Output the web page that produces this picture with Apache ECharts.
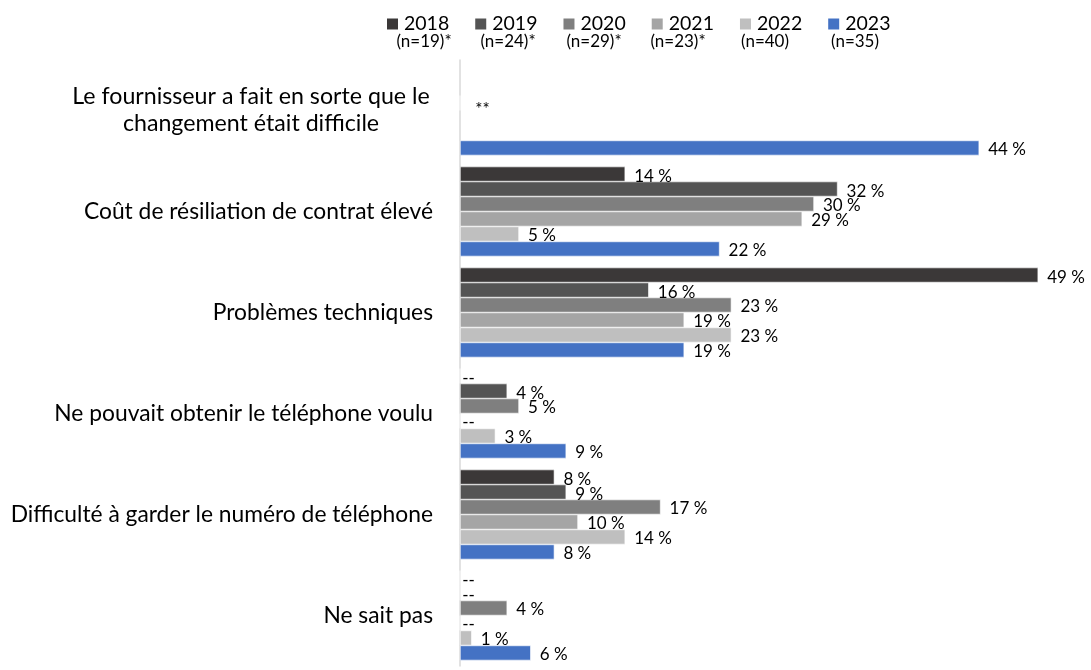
<!DOCTYPE html>
<html>
<head>
<meta charset="utf-8">
<script src="https://cdn.jsdelivr.net/npm/echarts@6/dist/echarts.min.js"></script>
<style>
  html, body { margin: 0; padding: 0; background: #fff; }
  #chart { width: 1091px; height: 670px; }
</style>
</head>
<body>
<div id="chart"></div>
<script>
// Raisons de ne pas changer de fournisseur, par année d'enquête (%)
const categories = [
  'Le fournisseur a fait en sorte que le\nchangement était difficile',
  'Coût de résiliation de contrat élevé',
  'Problèmes techniques',
  'Ne pouvait obtenir le téléphone voulu',
  'Difficulté à garder le numéro de téléphone',
  'Ne sait pas'
];
const years = ['2018', '2019', '2020', '2021', '2022', '2023'];
const sampleSizes = ['(n=19)*', '(n=24)*', '(n=29)*', '(n=23)*', '(n=40)', '(n=35)'];

// null = aucune mention ("--")
const v2018 = [null, 14, 49, null, 8, null];
const v2019 = [null, 32, 16, 4, 9, null];
const v2020 = [null, 30, 23, 5, 17, 4];
const v2021 = [null, 29, 19, null, 10, null];
const v2022 = [null, 5, 23, 3, 14, 1];
const v2023 = [44, 22, 19, 9, 8, 6];

// Catégorie posée seulement en 2023 : marquée "**" pour les années précédentes
const newItemIndex = 0;
const newItemNote = '**';

const colors = ['#3b3838', '#545454', '#7f7f7f', '#a5a5a5', '#bfbfbf', '#4472c4'];
const seriesValues = [v2018, v2019, v2020, v2021, v2022, v2023];

const FONT = 'Lato';

function buildData(values, yearIdx) {
  return values.map((v, i) => {
    if (i === newItemIndex && v === null) {
      if (years[yearIdx] === '2020') {
        return { value: 0, note: newItemNote, label: { distance: 2, offset: [13, 6.5], fontSize: 17 } };
      }
      return { value: null };
    }
    if (v === null) {
      return { value: 0, note: '--', label: { distance: 2 } };
    }
    return { value: v };
  });
}

const series = years.map((y, k) => ({
  name: y,
  type: 'bar',
  barGap: '0%',
  barCategoryGap: '11%',
  data: buildData(seriesValues[k], k),
  itemStyle: { color: colors[k], borderColor: '#ffffff', borderWidth: 0.6 },
  label: {
    show: true,
    position: 'right',
    distance: 9,
    offset: [0, 2],
    fontFamily: FONT,
    fontSize: 17,
    color: '#000',
    formatter: p => (p.data && p.data.note) ? p.data.note : (p.value + ' %')
  },
  emphasis: { disabled: true }
}));

// Sous-titres (taille d'échantillon) sous chaque année de la légende
const sampleX = [424, 508, 594, 678, 765, 855];
const graphics = sampleSizes.map((t, i) => ({
  type: 'text',
  x: sampleX[i],
  y: 42,
  style: {
    text: t,
    fontFamily: FONT,
    fontSize: 17,
    fill: '#000',
    align: 'center',
    verticalAlign: 'middle'
  }
}));

const chart = echarts.init(document.getElementById('chart'), null, { renderer: 'canvas' });
chart.setOption({
  animation: false,
  backgroundColor: '#ffffff',
  textStyle: { fontFamily: FONT },
  legend: {
    data: years,
    left: 380,
    top: 9,
    itemWidth: 13,
    itemHeight: 13,
    itemGap: 24,
    icon: 'rect',
    selectedMode: false,
    textStyle: { fontFamily: FONT, fontSize: 19.5, color: '#000', padding: [0, 0, 0, 0] }
  },
  graphic: graphics,
  grid: { left: 460, right: 41, top: 60, bottom: 4, containLabel: false },
  xAxis: {
    type: 'value',
    min: 0,
    max: 50,
    show: false,
    splitLine: { show: false }
  },
  yAxis: {
    type: 'category',
    inverse: true,
    data: categories,
    axisLine: { show: true, lineStyle: { color: '#d9d9d9', width: 1.5 } },
    axisTick: { show: false },
    axisLabel: {
      margin: 27,
      fontFamily: FONT,
      fontSize: 22.8,
      color: '#000',
      lineHeight: 27,
      formatter: v => v.includes('\n')
        ? v.split('\n').map(l => '{c|' + l + '}').join('\n')
        : v,
      rich: {
        c: { width: 364, align: 'center', fontFamily: FONT, fontSize: 23.2, color: '#000', lineHeight: 27 }
      }
    }
  },
  series: series
});
</script>
</body>
</html>
